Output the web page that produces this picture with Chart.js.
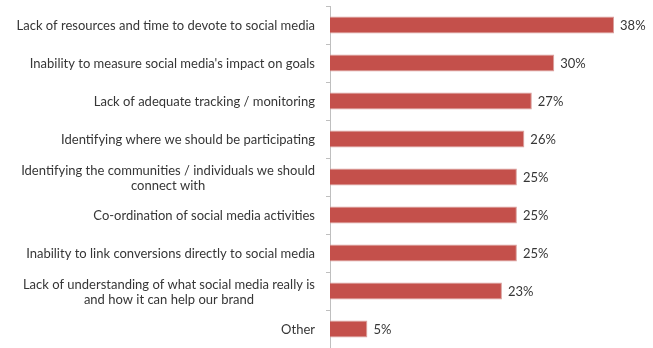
<!DOCTYPE html>
<html>
<head>
<meta charset="utf-8">
<script src="https://cdn.jsdelivr.net/npm/chart.js@4.4.1/dist/chart.umd.min.js"></script>
<style>
  html, body { margin: 0; padding: 0; background: #ffffff; }
  #wrap { width: 653px; height: 348px; position: relative; }
</style>
</head>
<body>
<div id="wrap"><canvas id="c"></canvas></div>
<script>
// Survey categories (multi-line where the label wraps)
const categories = [
  ["Lack of resources and time to devote to social media"],
  ["Inability to measure social media's impact on goals"],
  ["Lack of adequate tracking / monitoring"],
  ["Identifying where we should be participating"],
  ["Identifying the communities / individuals we should", "connect with"],
  ["Co-ordination of social media activities"],
  ["Inability to link conversions directly to social media"],
  ["Lack of understanding of what social media really is", "and how it can help our brand"],
  ["Other"]
];
// Share of respondents, percent
const shares = [38, 30, 27, 26, 25, 25, 25, 23, 5];

const FONT = "13px Lato, 'DejaVu Sans', sans-serif";
const TEXT_COLOR = '#363636';
const AXIS_LEFT = 330;

// Category labels: block right-aligned against the axis, lines centred inside the block
const categoryLabels = {
  id: 'categoryLabels',
  afterDraw(chart) {
    const ctx = chart.ctx;
    const y = chart.scales.y;
    ctx.save();
    ctx.font = FONT;
    ctx.fillStyle = TEXT_COLOR;
    ctx.textAlign = 'left';
    ctx.textBaseline = 'middle';
    const lineH = 15;
    const right = y.right - 15;
    categories.forEach((lines, i) => {
      const cy = y.getPixelForValue(i) + 1;
      const widths = lines.map(l => ctx.measureText(l).width);
      const blockW = Math.max(...widths);
      const top = cy - (lines.length - 1) * lineH / 2;
      lines.forEach((l, k) => {
        const x = right - blockW + (blockW - widths[k]) / 2;
        ctx.fillText(l, x, top + k * lineH);
      });
    });
    ctx.restore();
  }
};

// Value labels at the end of each bar
const valueLabels = {
  id: 'valueLabels',
  afterDatasetsDraw(chart) {
    const ctx = chart.ctx;
    const meta = chart.getDatasetMeta(0);
    ctx.save();
    ctx.font = FONT;
    ctx.fillStyle = TEXT_COLOR;
    ctx.textAlign = 'left';
    ctx.textBaseline = 'middle';
    meta.data.forEach((bar, i) => {
      ctx.fillText(shares[i] + '%', bar.x + 6, bar.y + 1);
    });
    ctx.restore();
  }
};

new Chart(document.getElementById('c'), {
  type: 'bar',
  data: {
    labels: categories.map(l => l.join(' ')),
    datasets: [{
      data: shares,
      backgroundColor: '#C4504B',
      borderColor: '#D9A09E',
      borderWidth: 1,
      borderSkipped: 'left',
      barPercentage: 0.45,
      categoryPercentage: 1.0
    }]
  },
  options: {
    indexAxis: 'y',
    responsive: true,
    maintainAspectRatio: false,
    animation: false,
    events: [],
    layout: { padding: { top: 6, right: 24, bottom: 0, left: 0 } },
    plugins: { legend: { display: false }, tooltip: { enabled: false } },
    scales: {
      x: {
        display: false,
        min: 0,
        max: 40
      },
      y: {
        position: 'left',
        afterFit(scale) { scale.width = AXIS_LEFT; },
        ticks: { display: false },
        grid: {
          offset: true,
          drawOnChartArea: false,
          drawTicks: true,
          tickLength: 4,
          color: '#BFBFBF'
        },
        border: { display: true, color: '#BFBFBF', width: 1 }
      }
    }
  },
  plugins: [categoryLabels, valueLabels]
});
</script>
</body>
</html>
